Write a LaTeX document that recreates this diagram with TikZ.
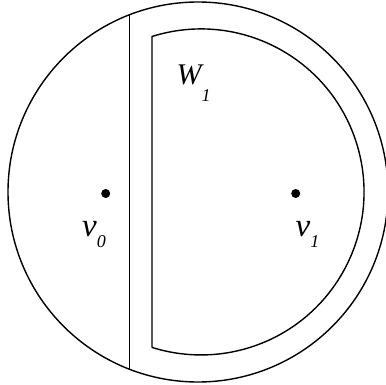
\documentclass[tikz,border=0pt]{standalone}
\usepackage{fontspec}
\setmainfont{Liberation Serif}
\usepackage{tikz}
\usetikzlibrary{positioning,calc}

\newcommand{\sublow}[2]{\raisebox{-#1pt}{\fontsize{18}{18}\selectfont #2}}

\begin{document}
\begin{tikzpicture}[x=1pt, y=-1pt, line width=1.4pt,
    dot/.style={circle, fill=black, inner sep=0pt, minimum size=9pt},
    lbl/.style={font=\fontsize{33}{33}\selectfont\itshape, inner sep=0pt, anchor=base west}]
      \useasboundingbox (0,0) rectangle (386,385);
      \clip (0,0) rectangle (386,385);
      % outer disc and the cut
      \coordinate (C) at (198,192);
      \draw (C) circle (190pt);
      \coordinate (cutT) at (129.5,14.8);
      \coordinate (cutB) at (129.5,369.2);
      \draw (cutT) -- (cutB);
      % region W_1
      \coordinate (wB) at (152,347.5);
      \coordinate (wT) at (152,36.5);
      \draw (wB) -- (wT) arc[start angle=107.5, end angle=-107.5, radius=163pt];
      \node[lbl, font=\fontsize{30}{30}\selectfont\itshape] (w1) at (176,85) {W\sublow{17}{1}};
      % the two points
      \node[dot] (v0) at (105.7,193.5) {};
      \node[dot] (v1) at (295.7,193.5) {};
      \node[lbl] (lv0) at (81.5,236.7) {v\sublow{10.5}{0}};
      \node[lbl] (lv1) at (295,236.7) {v\sublow{10.5}{1}};
    \end{tikzpicture}
\end{document}
